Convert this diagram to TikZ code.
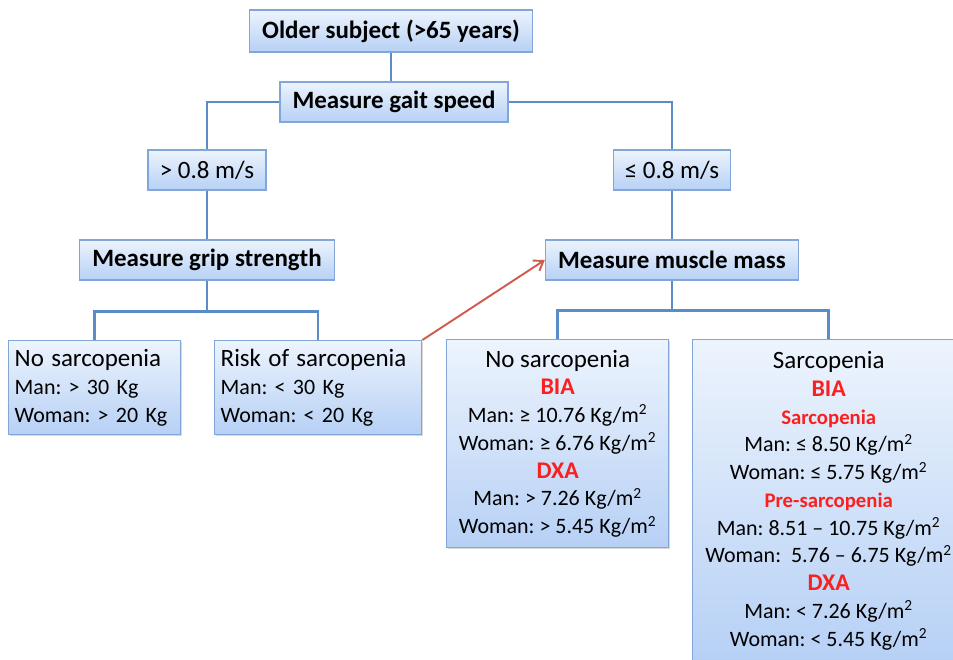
\documentclass[tikz,border=0pt]{standalone}
\usepackage{fontspec}
\setmainfont{Carlito}
\frenchspacing
\usetikzlibrary{arrows.meta, shadows}
\definecolor{boxtop}{RGB}{237,244,253}
\definecolor{boxbot}{RGB}{182,208,245}
\definecolor{boxline}{RGB}{130,166,216}
\definecolor{linkblue}{RGB}{90,140,200}
\definecolor{arrowred}{RGB}{210,90,78}
\definecolor{labred}{RGB}{250,32,32}
\newcommand{\boxttl}{\fontsize{14.2}{15.8}\selectfont}
\newcommand{\boxsml}{\fontsize{12.5}{15.8}\selectfont}
\newcommand{\redhead}[1]{{\color{labred}\bfseries\fontsize{13.6}{15.8}\selectfont #1}}
\newcommand{\redsub}[1]{{\color{labred}\bfseries\fontsize{11.8}{15.8}\selectfont #1}}
\newcommand{\msq}{Kg/m\textsuperscript{2}}
\tikzset{
  box/.style = {draw=boxline, line width=0.8pt, top color=boxtop, bottom color=boxbot,
    drop shadow={shadow xshift=0.5pt, shadow yshift=-0.8pt, opacity=0.3}, inner sep=0pt},
  stepbox/.style = {box, minimum height=0.8cm, font=\bfseries\boxttl},
  link/.style = {draw=linkblue, line width=1.4pt}
}

\begin{document}
\begin{tikzpicture}
\useasboundingbox (0,0) rectangle (19.06,-13.18);
\clip (0,0) rectangle (19.06,-13.18);
% top of the tree
\node[stepbox, minimum width=5.66cm, minimum height=0.84cm] (old) at (7.82,-0.62) {Older subject (>65 years)};
\node[stepbox, minimum width=4.56cm] (gait) at (7.88,-2.04) {Measure gait speed};
\node[box, minimum width=2.36cm, minimum height=0.8cm, font=\boxttl] (fast) at (4.14,-3.40) {> 0.8 m/s};
\node[box, minimum width=2.34cm, minimum height=0.8cm, font=\boxttl] (slow) at (13.44,-3.40) {≤ 0.8 m/s};
\node[stepbox, minimum width=5.1cm] (grip) at (4.14,-5.20) {Measure grip strength};
\node[stepbox, minimum width=5.06cm] (mass) at (13.44,-5.20) {Measure muscle mass};
% grip strength outcomes
\node[box, anchor=north west, minimum width=3.44cm, minimum height=1.88cm, text width=3.2cm, align=left, font=\boxsml] (nosarcL) at (0.16,-6.80)
  {{\boxttl No sarcopenia}\\ Man: > 30 Kg\\ Woman: > 20 Kg};
\node[box, anchor=north west, minimum width=4.14cm, minimum height=1.88cm, text width=3.9cm, align=left, font=\boxsml] (risk) at (4.28,-6.80)
  {{\boxttl Risk of sarcopenia}\\ Man: < 30 Kg\\ Woman: < 20 Kg};
% muscle mass outcomes
\node[box, anchor=north west, minimum width=4.44cm, minimum height=4.16cm, align=center, font=\boxsml] (nosarcR) at (8.92,-6.78)
  {{\boxttl No sarcopenia}\\ \redhead{BIA}\\ Man: ≥ 10.76 \msq\\ Woman: ≥ 6.76 \msq\\
   \redhead{DXA}\\ Man: > 7.26 \msq\\ Woman: > 5.45 \msq};
\node[box, anchor=north west, minimum width=5.44cm, minimum height=6.44cm, align=center, font=\boxsml] (sarc) at (13.84,-6.78)
  {{\boxttl Sarcopenia}\\ \redhead{BIA}\\ \redsub{Sarcopenia}\\ Man: ≤ 8.50 \msq\\ Woman: ≤ 5.75 \msq\\
   \redsub{Pre-sarcopenia}\\ Man: 8.51 – 10.75 \msq\\ Woman:\ \ 5.76 – 6.75 \msq\\
   \redhead{DXA}\\ Man: < 7.26 \msq\\ Woman: < 5.45 \msq};
% connectors
\draw[link] (old.south) -- (old.south |- gait.north);
\draw[link] (gait.west) -| (fast.north);
\draw[link] (gait.east) -| (slow.north);
\draw[link] (fast.south) -- (grip.north);
\draw[link] (slow.south) -- (mass.north);
\draw[link] (grip.south) -- ++(0,-0.62) coordinate (gsplit);
\draw[link] (nosarcL.north) |- (gsplit) -| (risk.north);
\draw[link] (mass.south) -- ++(0,-0.6) coordinate (msplit);
\draw[link] (nosarcR.north) |- (msplit) -| (sarc.north);
\draw[arrowred, line width=1.1pt, -{Straight Barb[length=5pt, width=7pt]}] (risk.north east) -- (mass.west);
\end{tikzpicture}
\end{document}
